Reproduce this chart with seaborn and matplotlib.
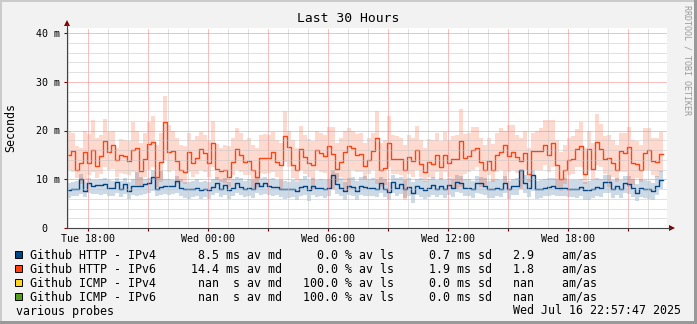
import numpy as np
import pandas as pd
import matplotlib
matplotlib.use("Agg")
import matplotlib.pyplot as plt
from matplotlib.patches import Rectangle, Polygon
from matplotlib.lines import Line2D
import seaborn as sns

# ---------------- data (milliseconds, one value per 12-minute step) ----------------
http4_median = [
    7.8, 8.1, 7.9, 10.0, 7.6, 9.3, 8.6, 8.8, 8.8, 9.0, 8.3, 8.3, 9.4, 8.1, 9.0, 7.5, 8.7, 8.7, 8.6, 9.0, 9.3, 10.4, 8.1, 8.5, 8.7,
    8.6, 8.6, 9.7, 8.3, 8.1, 7.9, 8.1, 8.3, 7.8, 8.1, 7.8, 8.5, 9.3, 8.1, 8.8, 7.8, 8.3, 9.3, 8.5, 8.1, 8.3, 8.1, 9.3, 8.6, 9.3,
    8.6, 8.5, 8.5, 8.1, 7.9, 7.9, 8.1, 7.6, 8.5, 8.6, 7.8, 8.6, 8.3, 8.2, 8.1, 8.3, 10.8, 9.0, 8.3, 7.6, 8.6, 8.5, 7.6, 8.7, 8.5,
    8.2, 8.3, 8.1, 9.2, 8.1, 7.4, 9.5, 8.3, 9.0, 8.1, 8.5, 7.1, 8.6, 8.3, 7.8, 8.3, 8.8, 8.1, 8.6, 8.1, 8.8, 8.2, 9.5, 9.3, 8.3,
    8.3, 7.9, 9.3, 9.3, 8.6, 7.9, 8.1, 8.3, 8.1, 9.3, 7.9, 8.6, 8.6, 11.8, 9.3, 8.3, 10.9, 7.9, 8.1, 8.3, 8.5, 8.6, 8.3, 8.3, 8.3,
    8.1, 8.1, 8.1, 8.5, 7.8, 7.8, 8.1, 8.5, 8.3, 9.5, 9.4, 8.1, 8.6, 8.1, 9.3, 9.0, 8.3, 7.2, 8.3, 8.1, 7.9, 7.5, 8.7, 9.9,
]
http4_low = [
    6.2, 6.5, 6.6, 7.0, 6.3, 7.2, 7.0, 7.0, 6.8, 7.0, 6.6, 6.5, 7.2, 6.4, 7.0, 6.0, 6.8, 6.6, 6.8, 6.9, 7.2, 7.5, 6.5, 6.8, 7.0,
    6.8, 6.9, 7.2, 6.5, 6.2, 6.0, 6.4, 6.6, 6.0, 6.4, 6.0, 6.8, 7.2, 6.4, 6.8, 6.0, 6.6, 7.2, 6.7, 6.4, 6.6, 6.2, 7.2, 6.8, 7.0,
    6.8, 6.6, 6.8, 6.4, 6.0, 6.2, 6.4, 5.8, 6.6, 6.8, 5.6, 6.8, 6.4, 6.5, 6.2, 6.6, 8.0, 7.0, 6.5, 5.8, 6.8, 6.6, 5.8, 6.8, 6.6,
    6.5, 6.6, 6.4, 7.2, 6.4, 5.8, 7.2, 6.6, 7.0, 6.2, 6.6, 5.2, 6.8, 6.4, 6.0, 6.4, 6.8, 6.3, 6.8, 6.2, 6.8, 6.4, 7.4, 7.2, 6.5,
    6.5, 6.2, 7.2, 7.0, 6.7, 6.1, 6.2, 6.5, 6.3, 7.2, 6.0, 6.8, 6.7, 8.0, 7.2, 6.4, 7.5, 6.0, 6.2, 6.5, 6.6, 6.8, 6.5, 6.5, 6.5,
    6.3, 6.3, 6.2, 6.6, 5.8, 5.8, 6.2, 6.6, 6.4, 7.2, 7.2, 6.2, 6.8, 6.2, 7.2, 7.0, 6.4, 5.5, 6.4, 6.2, 6.0, 5.8, 6.8, 8.0,
]
http4_high = [
    9.2, 9.5, 9.6, 11.0, 9.5, 10.2, 9.8, 9.8, 10.0, 10.2, 9.8, 9.6, 10.3, 9.6, 10.2, 9.5, 10.0, 11.5, 10.4, 10.0, 10.2, 11.8, 10.5, 11.6, 10.0,
    10.0, 9.8, 10.6, 10.0, 9.5, 9.4, 9.6, 10.0, 9.4, 9.6, 9.5, 10.0, 10.4, 9.8, 10.2, 9.4, 10.0, 10.4, 10.2, 9.6, 10.0, 9.8, 10.5, 10.2, 10.5,
    10.0, 10.2, 9.8, 9.8, 9.6, 9.5, 9.8, 9.4, 10.0, 10.6, 9.8, 10.2, 9.8, 10.0, 9.8, 10.0, 12.0, 11.2, 10.2, 9.5, 10.2, 10.4, 9.6, 10.4, 10.6,
    10.0, 10.2, 9.8, 10.5, 10.0, 9.4, 10.8, 10.2, 10.5, 9.8, 10.2, 9.5, 10.0, 10.2, 9.6, 10.0, 10.4, 9.8, 10.2, 9.8, 10.2, 10.0, 10.8, 10.6, 10.0,
    10.0, 9.6, 10.6, 10.5, 10.2, 9.6, 9.8, 10.0, 9.8, 10.6, 9.6, 10.0, 10.2, 12.0, 10.8, 10.0, 11.8, 9.6, 9.8, 10.0, 10.2, 10.2, 10.0, 10.0, 10.2,
    9.8, 9.8, 9.8, 10.0, 9.5, 9.6, 9.8, 10.2, 10.0, 10.8, 10.8, 9.8, 10.2, 9.8, 10.6, 10.6, 10.0, 9.0, 10.0, 9.8, 9.6, 9.2, 10.6, 11.6,
]
http6_median = [
    15.0, 15.7, 12.0, 13.3, 15.5, 13.4, 15.9, 12.7, 14.8, 17.9, 15.5, 17.0, 13.9, 14.9, 14.8, 13.8, 15.9, 16.4, 11.6, 14.1, 17.2, 17.6, 10.4, 13.6, 21.8,
    15.5, 15.8, 13.8, 12.0, 11.4, 15.6, 13.4, 14.3, 16.3, 15.3, 13.3, 17.4, 12.2, 11.7, 12.0, 10.5, 13.5, 16.3, 15.0, 13.6, 13.8, 12.0, 10.5, 14.4, 14.3,
    14.4, 15.5, 13.6, 12.9, 18.9, 16.7, 12.9, 11.9, 16.3, 14.6, 13.3, 12.9, 16.1, 15.3, 14.8, 16.8, 15.2, 12.2, 13.6, 15.5, 16.8, 16.5, 15.0, 15.1, 12.7,
    13.9, 15.7, 18.4, 12.0, 12.4, 17.4, 14.1, 14.1, 14.1, 12.0, 14.6, 13.8, 16.1, 13.1, 11.4, 13.6, 13.1, 15.0, 12.6, 15.0, 13.4, 14.1, 14.2, 17.9, 14.4,
    14.8, 16.1, 16.5, 13.6, 12.0, 13.8, 12.0, 15.0, 15.5, 17.0, 14.8, 15.5, 14.6, 13.8, 15.3, 11.1, 15.7, 15.7, 15.7, 17.0, 15.0, 17.5, 12.9, 10.0, 12.0,
    13.9, 14.1, 16.3, 16.8, 11.1, 16.3, 12.2, 17.7, 16.3, 14.1, 14.3, 13.4, 11.8, 15.7, 15.3, 16.7, 13.4, 13.1, 11.8, 15.3, 16.0, 13.8, 13.6, 15.2,
]
http6_low = [
    11.9, 11.5, 10.2, 9.0, 9.5, 10.8, 11.5, 10.2, 11.0, 12.5, 11.8, 12.2, 10.5, 11.2, 11.0, 10.8, 11.5, 8.8, 8.5, 10.5, 12.0, 12.5, 8.5, 9.5, 14.0,
    11.5, 11.8, 9.0, 9.5, 9.0, 11.5, 10.5, 11.0, 12.0, 11.5, 10.5, 12.5, 9.8, 9.5, 9.2, 8.5, 10.8, 12.0, 11.5, 10.8, 10.8, 8.0, 8.2, 11.2, 11.0,
    11.2, 11.5, 10.5, 7.8, 13.5, 12.5, 10.2, 9.5, 12.0, 11.0, 10.5, 7.8, 12.0, 11.5, 11.2, 8.0, 7.8, 9.5, 10.5, 7.5, 8.0, 12.0, 11.5, 11.5, 10.0,
    11.0, 12.0, 9.0, 8.5, 8.8, 12.5, 11.0, 11.0, 10.8, 5.7, 11.0, 10.5, 12.0, 10.5, 9.5, 10.5, 10.2, 11.5, 10.0, 11.5, 10.5, 7.8, 8.0, 8.5, 11.0,
    11.5, 12.0, 12.5, 8.5, 8.8, 10.8, 9.5, 11.5, 12.0, 9.0, 11.5, 12.0, 11.2, 8.0, 12.0, 9.5, 12.0, 12.0, 12.0, 13.0, 11.5, 12.5, 8.5, 7.5, 9.0,
    10.8, 11.0, 12.5, 12.5, 9.0, 12.0, 9.8, 13.0, 12.5, 11.0, 8.5, 10.5, 9.5, 11.5, 11.5, 8.5, 8.8, 10.2, 9.5, 12.0, 12.0, 10.8, 10.5, 11.5,
]
http6_high = [
    19.8, 19.5, 16.8, 16.5, 19.8, 19.2, 22.1, 18.5, 19.0, 22.4, 19.6, 19.8, 16.5, 18.2, 18.0, 17.8, 21.8, 19.9, 17.5, 19.4, 21.8, 23.0, 17.0, 19.5, 27.1,
    21.1, 19.8, 18.5, 17.0, 16.8, 19.5, 18.0, 18.8, 19.6, 19.0, 18.0, 22.0, 17.2, 16.5, 17.0, 16.8, 18.5, 20.6, 19.4, 18.0, 18.5, 17.0, 16.5, 19.0, 19.2,
    19.0, 19.6, 18.0, 17.5, 23.9, 20.0, 18.0, 16.5, 20.9, 19.0, 18.2, 17.8, 19.9, 19.5, 19.0, 20.8, 20.8, 17.5, 18.5, 19.8, 20.5, 20.0, 19.2, 19.5, 17.5,
    18.5, 19.5, 24.0, 17.5, 18.0, 23.0, 19.0, 18.8, 18.5, 17.0, 19.0, 18.5, 20.9, 18.0, 16.5, 18.2, 18.0, 19.5, 17.8, 19.6, 18.0, 18.8, 19.0, 24.4, 19.2,
    19.5, 20.7, 20.7, 18.5, 17.0, 18.5, 17.2, 19.5, 20.5, 19.8, 21.1, 21.1, 19.0, 18.5, 19.8, 16.5, 19.5, 19.8, 20.5, 22.1, 22.1, 22.1, 18.0, 15.5, 17.0,
    18.5, 18.8, 20.3, 21.7, 16.5, 20.0, 17.5, 23.4, 21.3, 18.8, 19.0, 18.0, 17.0, 19.5, 19.5, 20.7, 18.0, 17.8, 17.0, 20.5, 20.5, 18.5, 18.5, 19.6,
]

# time axis: hours counted from Tue 00:00
start_hour = 16 + 57 / 60 + 47 / 3600      # Tue 16:57:47
span_hours = 30
step_hours = 0.2                            # 12-minute consolidation step

xtick_hours = [18, 21, 24, 27, 30, 33, 36, 39, 42, 45]
xtick_labels = ["Tue 18:00", "", "Wed 00:00", "", "Wed 06:00", "", "Wed 12:00", "", "Wed 18:00", ""]
ytick_values = [0, 10, 20, 30, 40]
ytick_labels = ["0  ", "10 m", "20 m", "30 m", "40 m"]

legend_names = ["Github HTTP - IPv4", "Github HTTP - IPv6", "Github ICMP - IPv4", "Github ICMP - IPv6"]
legend_colors = ["#004586", "#ff420e", "#ffd320", "#579d1c"]
legend_median = ["8.5", "14.4", "nan", "nan"]
legend_unit = ["ms", "ms", "s", "s"]
legend_loss = ["0.0", "0.0", "100.0", "100.0"]
legend_sd = ["0.7", "1.9", "0.0", "0.0"]
legend_amas = ["2.9", "1.8", "nan", "nan"]

title = "Last 30 Hours"
footer_left = "various probes"
footer_right = "Wed Jul 16 22:57:47 2025"

# ---------------- figure ----------------
W, H = 697, 324
MONO = "DejaVu Sans Mono"
plt.rcParams["font.family"] = [MONO, "DejaVu Sans"]

fig = plt.figure(figsize=(W / 100, H / 100), dpi=100)
fig.patch.set_facecolor("#f2f2f2")


def fx(x):
    return x / W


def fy(y):
    return 1 - y / H


# shaded frame around the image
fig.patches.append(Rectangle((0, fy(2)), 1, 2 / H, transform=fig.transFigure, color="#cbcbcb", lw=0))
fig.patches.append(Rectangle((0, 0), 2 / W, 1, transform=fig.transFigure, color="#cbcbcb", lw=0))
fig.patches.append(Rectangle((0, 0), 1, 3 / H, transform=fig.transFigure, color="#999999", lw=0))
fig.patches.append(Rectangle((fx(W - 3), 0), 3 / W, 1, transform=fig.transFigure, color="#999999", lw=0))

ax = fig.add_axes([fx(67), fy(228), 600 / W, 200 / H])
ax.set_facecolor("white")


def ext(v):
    return list(v) + [v[-1]]


n = len(http4_median)
hours = start_hour + step_hours * np.arange(n + 1)
df = pd.DataFrame({
    "hour": np.concatenate([hours, hours]),
    "ms": ext(http4_median) + ext(http6_median),
    "series": [legend_names[0]] * (n + 1) + [legend_names[1]] * (n + 1),
})

# smoke bands (spread of the pings) under the median lines
ax.fill_between(hours, ext(http4_low), ext(http4_high), step="post",
                color=legend_colors[0], alpha=0.2, lw=0)
ax.fill_between(hours, ext(http6_low), ext(http6_high), step="post",
                color=legend_colors[1], alpha=0.2, lw=0)

sns.lineplot(data=df, x="hour", y="ms", hue="series",
             palette={legend_names[0]: legend_colors[0], legend_names[1]: legend_colors[1]},
             drawstyle="steps-post", estimator=None, sort=False, legend=False,
             linewidth=1.0, ax=ax)

ax.set_xlim(start_hour, start_hour + span_hours)
ax.set_ylim(0, 200 / 4.875)

ax.set_xticks(xtick_hours)
ax.set_xticklabels(xtick_labels)
ax.set_xticks(np.arange(17, 47), minor=True)
ax.set_yticks(ytick_values)
ax.set_yticklabels(ytick_labels)
ax.set_yticks(np.arange(0, 41, 2), minor=True)

ax.set_xlabel("")
ax.set_ylabel("")
for s in ax.spines.values():
    s.set_visible(False)

ax.grid(which="minor", color="#c4c4c4", linestyle=(0, (1, 1)), linewidth=0.72)
ax.grid(which="major", color="#f08080", linestyle=(0, (1, 1)), linewidth=0.72)
ax.set_axisbelow(False)

ax.tick_params(axis="both", which="minor", length=0)
ax.tick_params(axis="x", which="major", length=2, width=0.8, color="#7f0000",
               pad=2.5, labelsize=7.2, labelcolor="black")
ax.tick_params(axis="y", which="major", length=2, width=0.8, color="#7f0000",
               pad=3.4, labelsize=7.2, labelcolor="black")
for lab in ax.get_xticklabels() + ax.get_yticklabels():
    lab.set_fontfamily(MONO)

# axis lines with arrow heads
fig.add_artist(Line2D([fx(67), fx(67)], [fy(228), fy(24)], transform=fig.transFigure,
                      color="#444444", lw=0.8))
fig.add_artist(Line2D([fx(67), fx(670)], [fy(228), fy(228)], transform=fig.transFigure,
                      color="#444444", lw=0.8))
fig.add_artist(Polygon([[fx(64), fy(26)], [fx(70), fy(26)], [fx(67), fy(20)]],
                       closed=True, transform=fig.transFigure, color="#7f0000", lw=0))
fig.add_artist(Polygon([[fx(669), fy(225)], [fx(669), fy(231)], [fx(675), fy(228)]],
                       closed=True, transform=fig.transFigure, color="#7f0000", lw=0))

# texts
fig.text(fx(348), fy(19), title, ha="center", va="center", fontsize=9.4, family=MONO)
fig.text(fx(11), fy(128), "Seconds", rotation=90, ha="center", va="center", fontsize=8.4, family=MONO)
fig.text(fx(687.5), fy(5), "RRDTOOL / TOBI OETIKER", rotation=270, ha="center", va="top",
         fontsize=6, family=MONO, color="#9a9a9a")

row_y = [254.5, 268.5, 282.5, 296.5]
for i, name in enumerate(legend_names):
    line = (f"{name}    {legend_median[i]:>5} {legend_unit[i]:>2} av md   "
            f"{legend_loss[i]:>5} % av ls   {legend_sd[i]:>5} ms sd "
            f"{legend_amas[i]:>5}    am/as")
    fig.patches.append(Rectangle((fx(15), fy(row_y[i] + 3.5)), 7 / W, 7 / H,
                                 transform=fig.transFigure, facecolor=legend_colors[i],
                                 edgecolor="black", lw=0.7))
    fig.text(fx(30), fy(row_y[i]), line, ha="left", va="center", fontsize=8.4, family=MONO)

fig.text(fx(16), fy(311), footer_left, ha="left", va="center", fontsize=8.4, family=MONO)
fig.text(fx(681), fy(311), footer_right, ha="right", va="center", fontsize=8.4, family=MONO)

fig.savefig("out.png", dpi=100, facecolor=fig.get_facecolor())
